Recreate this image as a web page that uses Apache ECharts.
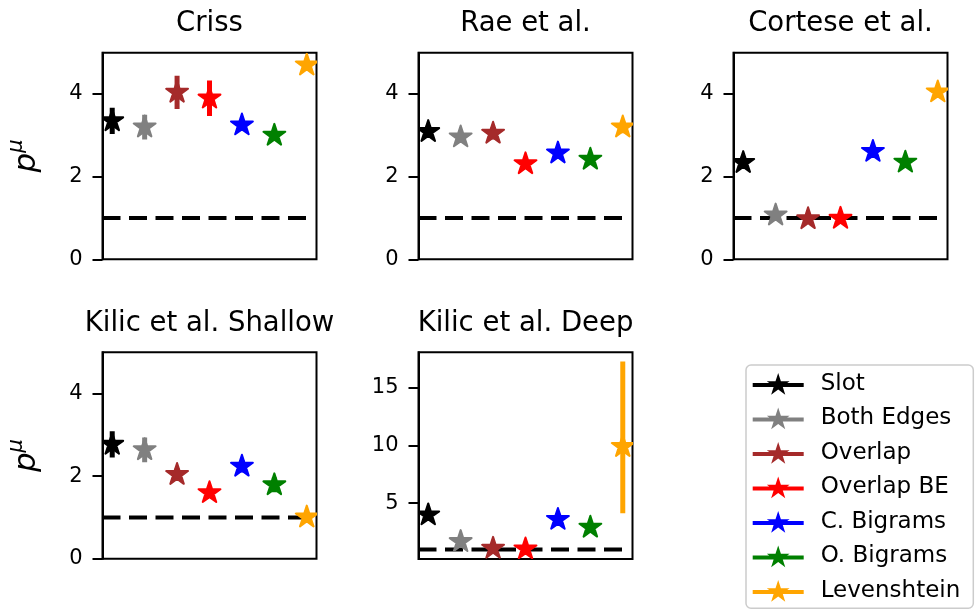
<!DOCTYPE html>
<html>
<head>
<meta charset="utf-8">
<script src="https://cdn.jsdelivr.net/npm/echarts@6/dist/echarts.min.js"></script>
<style>
html,body{margin:0;padding:0;background:#fff;}
#chart{width:976px;height:611px;}
</style>
</head>
<body>
<div id="chart"></div>
<script>
// ---- data ----
const methods = ['Slot', 'Both Edges', 'Overlap', 'Overlap BE', 'C. Bigrams', 'O. Bigrams', 'Levenshtein'];
const colors = ['#000000', '#808080', '#a52a2a', '#ff0000', '#0000ff', '#008000', '#ffa500'];
const panelTitles = ['Criss', 'Rae et al.', 'Cortese et al.', 'Kilic et al. Shallow', 'Kilic et al. Deep'];

const crissVals  = [3.35, 3.2, 4.04, 3.9, 3.25, 3.0, 4.7];
const crissLow   = [3.03, 2.9, 3.64, 3.47, 3.13, 2.88, 4.6];
const crissHigh  = [3.67, 3.5, 4.44, 4.33, 3.37, 3.12, 4.8];

const raeVals    = [3.09, 2.96, 3.05, 2.31, 2.57, 2.42, 3.2];
const raeLow     = [2.94, 2.84, 2.9, 2.19, 2.45, 2.3, 3.05];
const raeHigh    = [3.24, 3.08, 3.2, 2.43, 2.69, 2.54, 3.35];

const corteseVals = [2.34, 1.07, 0.98, 0.99, 2.61, 2.35, 4.05];
const corteseLow  = [2.19, 0.97, 0.88, 0.89, 2.51, 2.25, 3.93];
const corteseHigh = [2.49, 1.17, 1.08, 1.09, 2.71, 2.45, 4.17];

const shallowVals = [2.77, 2.64, 2.04, 1.6, 2.24, 1.79, 1.01];
const shallowLow  = [2.45, 2.34, 1.89, 1.48, 2.09, 1.61, 0.91];
const shallowHigh = [3.09, 2.94, 2.19, 1.72, 2.39, 1.97, 1.11];

const deepVals = [3.99, 1.68, 1.1, 1.05, 3.6, 2.92, 9.9];
const deepLow  = [3.49, 1.28, 0.8, 0.75, 3.1, 2.42, 4.13];
const deepHigh = [4.49, 2.08, 1.4, 1.35, 4.1, 3.42, 17.25];

const panelVals = [crissVals, raeVals, corteseVals, shallowVals, deepVals];
const panelLow  = [crissLow, raeLow, corteseLow, shallowLow, deepLow];
const panelHigh = [crissHigh, raeHigh, corteseHigh, shallowHigh, deepHigh];

const yMin = [0, 0, 0, 0, 0.18];
const yMax = [5, 5, 5, 5, 18.05];
const yTicks = [[0, 2, 4], [0, 2, 4], [0, 2, 4], [0, 2, 4], [5, 10, 15]];
const refLevel = 1;

// ---- layout ----
const FONT = 'DejaVu Sans';
const grids = [
  {left: 102.5, top: 52.7, width: 214, height: 206.6},
  {left: 418.5, top: 52.7, width: 214, height: 206.6},
  {left: 733.5, top: 52.7, width: 214, height: 206.6},
  {left: 102.5, top: 352.3, width: 214, height: 206.5},
  {left: 418.5, top: 352.3, width: 214, height: 206.7}
];
const R = 11.5, INNER = 0.381966;

function starPts(cx, cy, r) {
  const pts = [];
  for (let k = 0; k < 10; k++) {
    const a = (-90 + k * 36) * Math.PI / 180;
    const rr = (k % 2 === 0) ? r : r * INNER;
    pts.push([cx + rr * Math.cos(a), cy + rr * Math.sin(a)]);
  }
  return pts;
}
function legendIconPath() {
  const pts = starPts(25.5, 12, 12);
  return 'path://M0 10 L51 10 L51 14 L0 14 Z M' + pts.map(q => q[0].toFixed(3) + ' ' + q[1].toFixed(3)).join(' L') + ' Z';
}

function renderItem(params, api) {
  const x = api.value(0), y = api.value(1), lo = api.value(2), hi = api.value(3);
  const c = api.coord([x, y]);
  const cl = api.coord([x, lo]);
  const ch = api.coord([x, hi]);
  const color = api.visual('color');
  return {
    type: 'group',
    children: [
      {type: 'line', shape: {x1: c[0], y1: cl[1], x2: c[0], y2: ch[1]}, style: {stroke: color, lineWidth: 5}},
      {type: 'polygon', shape: {points: starPts(c[0], c[1], R)},
       style: {fill: color, stroke: color, lineWidth: 2, lineJoin: 'round'}}
    ]
  };
}

const xAxes = [], yAxes = [], series = [], titles = [];
grids.forEach((g, i) => {
  xAxes.push({gridIndex: i, type: 'value', min: -0.3, max: 6.3, show: false});
  yAxes.push({
    gridIndex: i, type: 'value', min: yMin[i], max: yMax[i],
    name: (i === 0 || i === 3) ? '{p|p}{m|μ}' : '',
    nameLocation: 'middle', nameRotate: 90, nameGap: 55,
    nameTextStyle: {
      rich: {
        p: {fontFamily: FONT, fontStyle: 'italic', fontSize: 31, color: '#000'},
        m: {fontFamily: FONT, fontStyle: 'italic', fontSize: 21, color: '#000', padding: [0, 0, 20, 0]}
      }
    },
    axisLine: {show: true, onZero: false, lineStyle: {color: '#000', width: 2}},
    axisTick: {show: true, length: 10, customValues: yTicks[i], lineStyle: {color: '#000', width: 2}},
    axisLabel: {customValues: yTicks[i], fontFamily: FONT, fontSize: 21, color: '#000', margin: 20},
    splitLine: {show: false}
  });
  titles.push({
    text: panelTitles[i],
    left: g.left + g.width / 2, top: g.top - 42.5, textAlign: 'center', padding: 0,
    textStyle: {fontFamily: FONT, fontSize: 27.5, fontWeight: 'normal', color: '#000'}
  });
  series.push({
    type: 'line', xAxisIndex: i, yAxisIndex: i, silent: true,
    data: [[-0.3, refLevel], [6, refLevel]], symbol: 'none',
    lineStyle: {color: '#000', width: 4, type: [18, 8.5]}, z: 1
  });
  methods.forEach((m, k) => {
    series.push({
      type: 'custom', name: m, xAxisIndex: i, yAxisIndex: i, clip: true,
      itemStyle: {color: colors[k]},
      data: [[k, panelVals[i][k], panelLow[i][k], panelHigh[i][k]]],
      renderItem: renderItem, z: 2
    });
  });
});

const icon = legendIconPath();
const option = {
  animation: false,
  backgroundColor: '#fff',
  title: titles,
  grid: grids.map(g => Object.assign({show: true, borderColor: '#000', borderWidth: 2, backgroundColor: 'transparent'}, g)),
  xAxis: xAxes,
  yAxis: yAxes,
  legend: {
    orient: 'vertical', left: 746, top: 365, height: 290,
    padding: [7.3, 13, 6, 6.7],
    itemGap: 11.5, itemWidth: 51, itemHeight: 22,
    backgroundColor: '#fff', borderColor: '#cccccc', borderWidth: 1.5, borderRadius: 5,
    selectedMode: false,
    textStyle: {fontFamily: FONT, fontSize: 23, lineHeight: 22, color: '#000', padding: [0, 0, 0, 12]},
    data: methods.map(m => ({name: m, icon: icon}))
  },
  series: series
};
const chart = echarts.init(document.getElementById('chart'), null, {renderer: 'canvas'});
chart.setOption(option);
</script>
</body>
</html>
